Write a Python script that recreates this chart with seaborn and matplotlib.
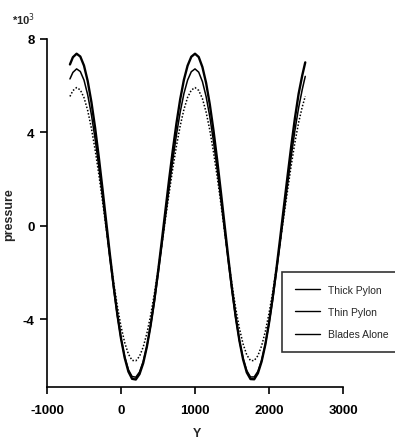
import matplotlib
matplotlib.use("Agg")
import matplotlib.pyplot as plt
import seaborn as sns
import pandas as pd
from matplotlib import font_manager

sns.set_theme(style="ticks")
avail = {f.name for f in font_manager.fontManager.ttflist}
fam = [f for f in ["Liberation Sans Narrow", "Liberation Sans", "DejaVu Sans"] if f in avail]
plt.rcParams['font.family'] = fam

# ---- data ----
y_pos = [-690, -650, -600, -550, -500, -450, -400, -350, -300, -250, -200, -150, -100, -50,
         0, 50, 100, 150, 200, 250, 300, 350, 400, 450, 500, 550, 600, 650, 700, 750, 800,
         850, 900, 950, 1000, 1050, 1100, 1150, 1200, 1250, 1300, 1350, 1400, 1450, 1500,
         1550, 1600, 1650, 1700, 1750, 1800, 1850, 1900, 1950, 2000, 2050, 2100, 2150, 2200,
         2250, 2300, 2350, 2400, 2450, 2490]
thick_pylon = [6.91, 7.22, 7.37, 7.25, 6.86, 6.20, 5.30, 4.20, 2.94, 1.58, 0.17, -1.23, -2.56, -3.78,
               -4.82, -5.65, -6.24, -6.55, -6.58, -6.35, -5.88, -5.17, -4.26, -3.19, -1.98, -0.68, 0.65, 1.98, 3.24, 4.40, 5.42,
               6.25, 6.86, 7.24, 7.37, 7.23, 6.80, 6.12, 5.20, 4.08, 2.81, 1.44, 0.03, -1.37, -2.69,
               -3.89, -4.91, -5.72, -6.28, -6.56, -6.57, -6.31, -5.81, -5.09, -4.16, -3.07, -1.85, -0.55, 0.79,
               2.11, 3.40, 4.60, 5.65, 6.45, 7.00]
thin_pylon = [6.29, 6.57, 6.72, 6.61, 6.24, 5.61, 4.76, 3.72, 2.53, 1.24, -0.09, -1.42, -2.68, -3.83,
              -4.82, -5.60, -6.16, -6.45, -6.48, -6.26, -5.81, -5.15, -4.29, -3.27, -2.12, -0.90, 0.36, 1.62, 2.81, 3.91, 4.87,
              5.66, 6.24, 6.60, 6.72, 6.58, 6.18, 5.54, 4.67, 3.61, 2.41, 1.11, -0.22, -1.55, -2.80,
              -3.94, -4.91, -5.67, -6.20, -6.47, -6.47, -6.23, -5.76, -5.07, -4.19, -3.16, -2.00, -0.77, 0.49,
              1.74, 2.96, 4.08, 5.05, 5.85, 6.40]
blades_alone = [5.54, 5.79, 5.92, 5.82, 5.49, 4.94, 4.18, 3.26, 2.21, 1.06, -0.12, -1.29, -2.41, -3.43,
                -4.31, -5.00, -5.49, -5.76, -5.78, -5.59, -5.19, -4.60, -3.84, -2.93, -1.92, -0.83, 0.28, 1.40, 2.46, 3.43, 4.28,
                4.98, 5.50, 5.81, 5.92, 5.80, 5.45, 4.87, 4.10, 3.16, 2.10, 0.95, -0.24, -1.41, -2.52,
                -3.53, -4.39, -5.06, -5.53, -5.77, -5.77, -5.56, -5.14, -4.53, -3.75, -2.84, -1.81, -0.72, 0.40,
                1.50, 2.58, 3.57, 4.42, 5.10, 5.55]
series_names = ["Thick Pylon", "Thin Pylon", "Blades Alone"]
x_ticks = [-1000, 0, 1000, 2000, 3000]
x_tick_labels = ["-1000", "0", "1000", "2000", "3000"]
y_ticks = [-4, 0, 4, 8]
y_tick_labels = ["-4", "0", "4", "8"]

fig = plt.figure(figsize=(3.95, 4.39), dpi=100)
ax = fig.add_axes([47/395, 1-388/439, 296/395, 348/439])

styles = [dict(lw=1.7, ls='-'), dict(lw=1.1, ls='-'), dict(lw=1.1, ls=(0, (1, 1.2)))]
for name, vals, st in zip(series_names, [thick_pylon, thin_pylon, blades_alone], styles):
    df = pd.DataFrame({"Y": y_pos, "pressure": vals})
    sns.lineplot(data=df, x="Y", y="pressure", ax=ax, color="black",
                 linewidth=st['lw'], linestyle=st['ls'], label=name, sort=False)

ax.set_xlim(-1000, 3000)
ax.set_ylim(-6.9, 8)
ax.set_xticks(x_ticks)
ax.set_xticklabels(x_tick_labels)
ax.set_yticks(y_ticks)
ax.set_yticklabels(y_tick_labels)
for s in ['top', 'right']:
    ax.spines[s].set_visible(False)
for s in ['left', 'bottom']:
    ax.spines[s].set_color('black')
    ax.spines[s].set_linewidth(1.2)
ax.tick_params(axis='both', direction='out', length=5, width=1.2, colors='black',
               labelsize=9.5, pad=4)
ax.tick_params(axis='x', pad=7)
for lab in ax.get_xticklabels() + ax.get_yticklabels():
    lab.set_fontweight('bold')
ax.set_xlabel("Y", fontsize=9, fontweight='bold')
ax.set_ylabel("pressure", fontsize=9, fontweight='bold')
ax.xaxis.set_label_coords(150/296, -40/348)
ax.yaxis.set_label_coords(-32/296, 173/348)

fig.text(12/395, 1-20/439, r"*10$^{3}$", fontsize=8, fontweight='bold', va='center', ha='left')

leg = ax.legend(loc='upper left', bbox_to_anchor=(282/395, 1-273/439), bbox_transform=fig.transFigure,
                borderaxespad=0, frameon=True, fancybox=False, fontsize=7.5, handlelength=2.4,
                labelspacing=1.2, borderpad=1.2, handletextpad=0.8)
leg.get_frame().set_edgecolor('black')
leg.get_frame().set_linewidth(1.2)
for h in leg.get_lines():
    h.set_linestyle('-')
    h.set_linewidth(1.0)

fig.savefig("out.png", dpi=100)
